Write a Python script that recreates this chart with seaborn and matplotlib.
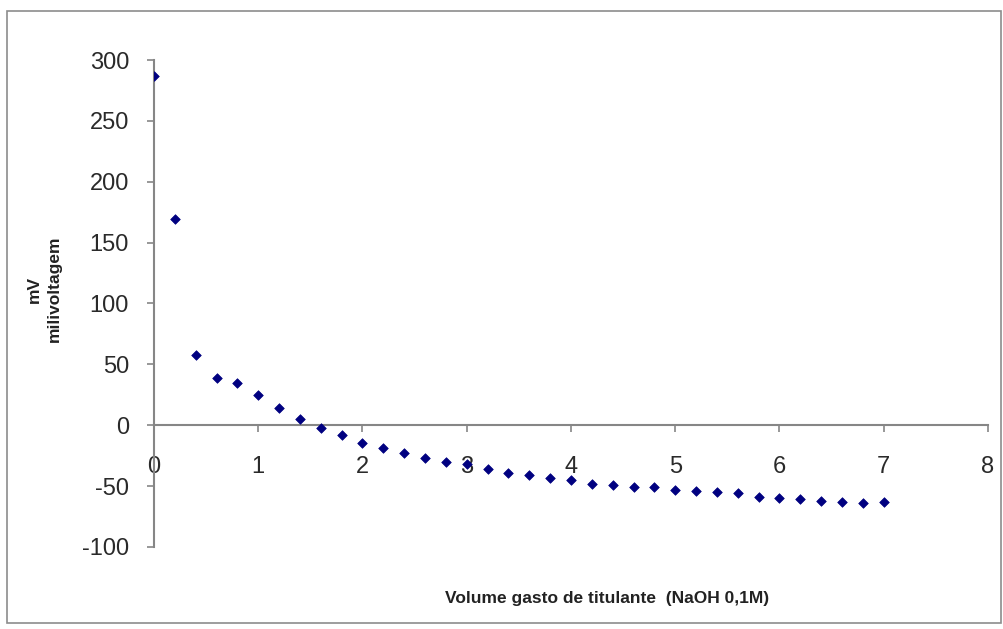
import matplotlib
matplotlib.use("Agg")
import matplotlib.pyplot as plt
import seaborn as sns
import pandas as pd
from matplotlib.patches import Rectangle

volume = [0.0, 0.2, 0.4, 0.6, 0.8, 1.0, 1.2, 1.4, 1.6, 1.8, 2.0, 2.2, 2.4, 2.6, 2.8,
          3.0, 3.2, 3.4, 3.6, 3.8, 4.0, 4.2, 4.4, 4.6, 4.8, 5.0, 5.2, 5.4, 5.6, 5.8,
          6.0, 6.2, 6.4, 6.6, 6.8, 7.0]
mv = [287, 169, 58, 39, 35, 25, 14, 5, -2, -8, -15, -19, -23, -27, -30,
      -32, -36, -39, -41, -43, -45, -48, -49, -51, -51, -53, -54, -55, -56, -59,
      -60, -61, -62, -63, -64, -63]
x_ticks = [0, 1, 2, 3, 4, 5, 6, 7, 8]
y_ticks = [-100, -50, 0, 50, 100, 150, 200, 250, 300]

df = pd.DataFrame({"volume": volume, "mv": mv})

sns.set_theme(style="white")
plt.rcParams["font.family"] = ["Liberation Sans", "DejaVu Sans"]

fig = plt.figure(figsize=(10.04, 6.29), dpi=100)
ax = fig.add_axes([0.1534, 0.1304, 0.8306, 0.7742])

sns.scatterplot(data=df, x="volume", y="mv", marker="D", s=24,
                color="#000080", edgecolor="#000080", linewidth=0.5, ax=ax, zorder=3)

ax.set_xlim(0, 8)
ax.set_ylim(-100, 300)
ax.set_xticks(x_ticks)
ax.set_yticks(y_ticks)
ax.set_xticklabels([str(t) for t in x_ticks])
ax.set_yticklabels([str(t) for t in y_ticks])

spine_col = "#868686"
for s in ["top", "right"]:
    ax.spines[s].set_visible(False)
ax.spines["bottom"].set_position(("data", 0))
ax.spines["left"].set_position(("data", 0))
ax.spines["bottom"].set_color(spine_col)
ax.spines["left"].set_color(spine_col)
ax.spines["bottom"].set_linewidth(1.5)
ax.spines["left"].set_linewidth(1.5)
ax.tick_params(axis="both", which="major", direction="out", length=5, width=1.2,
               color=spine_col, labelsize=17, labelcolor="#2a2a2a")
ax.tick_params(axis="x", pad=17, bottom=True)
ax.tick_params(axis="y", pad=13, left=True)
ax.set_xlabel("")
ax.set_ylabel("")
ax.grid(False)
ax.set_facecolor("none")

fig.text(0.044, 0.5405, "mV\nmilivoltagem", rotation=90, ha="center", va="center",
         fontsize=12.5, fontweight="bold", color="#222222", linespacing=1.45)
fig.text(0.605, 0.0477, "Volume gasto de titulante  (NaOH 0,1M)", ha="center", va="center",
         fontsize=12.5, fontweight="bold", color="#222222")

fig.patches.append(Rectangle((0.007, 0.01), 0.99, 0.972, transform=fig.transFigure,
                             fill=False, edgecolor="#8c8c8c", linewidth=1.2))

fig.savefig("out.png", dpi=100)
